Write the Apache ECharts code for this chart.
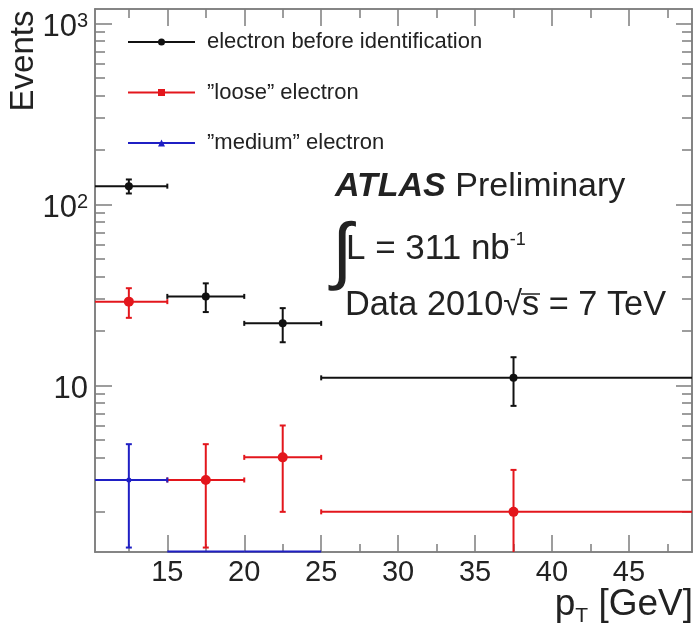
<!DOCTYPE html>
<html>
<head>
<meta charset="utf-8">
<script src="https://cdn.jsdelivr.net/npm/echarts@6/dist/echarts.min.js"></script>
<style>
  html, body { margin: 0; padding: 0; background: #fff; }
  #chart { width: 695px; height: 630px; }
</style>
</head>
<body>
<div id="chart"></div>
<script>
// bins in pT [GeV]
var binLo = [10, 15, 20, 25];
var binHi = [15, 20, 25, 50];
var binMid = [12.5, 17.5, 22.5, 37.5];

// events per bin, and error bar half-size
var allVals = [126, 31, 22, 11];
var allErrs = [11.2, 5.6, 4.7, 3.3];
var looseVals = [29, 3, 4, 2];
var looseErrs = [5.4, 1.73, 2, 1.41];
// 0 = empty bin (drawn on the lower frame), null = not drawn
var mediumVals = [3, 0, 0, null];
var mediumErrs = [1.73, 0, 0, null];

var seriesNames = ['electron before identification', '\u201dloose\u201d electron', '\u201dmedium\u201d electron'];

var xMajor = [15, 20, 25, 30, 35, 40, 45];
var xMinor = [12.5, 17.5, 22.5, 27.5, 32.5, 37.5, 42.5, 47.5];
var yMajor = [10, 100, 1000];
var yMinor = [2, 3, 4, 5, 6, 7, 8, 9, 20, 30, 40, 50, 60, 70, 80, 90, 200, 300, 400, 500, 600, 700, 800, 900];

var xMin = 10.3, xMax = 49.1;
var yMin = 1.2, yMax = 1200;

var FONT = 'Liberation Sans, Arial, sans-serif';
var FRAME = '#7d7d7d';
var TXT = '#222';

var chart = echarts.init(document.getElementById('chart'));

// empty bins sit on the lower edge of the log axis, like ROOT draws them
function buildData(vals, errs) {
	var d = [];
	for (var i = 0; i < vals.length; i++) {
		if (vals[i] === null) continue;
		d.push([binMid[i], vals[i] > 0 ? vals[i] : yMin, binLo[i], binHi[i], errs[i], vals[i]]);
	}
	return d;
}

function makeRender(color, r) {
	return function (params, api) {
		var cs = params.coordSys;
		var left = cs.x, right = cs.x + cs.width, top = cs.y, bottom = cs.y + cs.height;
		function cx(x) { return Math.max(left, Math.min(right, x)); }
		function cy(y) { return Math.max(top, Math.min(bottom, y)); }

		var xc = api.value(0), yv = api.value(1), lo = api.value(2), hi = api.value(3), e = api.value(4), v = api.value(5);
		var pc = api.coord([xc, yv]);
		var pl = api.coord([lo, yv]);
		var pr = api.coord([hi, yv]);
		var ls = { stroke: color, lineWidth: 2 };
		var kids = [];
		var y0 = v > 0 ? pc[1] : bottom - 0.5;
		kids.push({ type: 'line', shape: { x1: cx(pl[0]), y1: y0, x2: cx(pr[0]), y2: y0 }, style: ls });
		if (v > 0) {
			if (pl[0] >= left) kids.push({ type: 'line', shape: { x1: pl[0], y1: y0 - 2.5, x2: pl[0], y2: y0 + 2.5 }, style: ls });
			if (pr[0] <= right) kids.push({ type: 'line', shape: { x1: pr[0], y1: y0 - 2.5, x2: pr[0], y2: y0 + 2.5 }, style: ls });
		}
		if (v > 0 && e > 0) {
			var pt = api.coord([xc, v + e]);
			var pb = api.coord([xc, Math.max(v - e, 0.01)]);
			kids.push({ type: 'line', shape: { x1: pt[0], y1: cy(pt[1]), x2: pb[0], y2: cy(pb[1]) }, style: ls });
			if (pt[1] >= top) kids.push({ type: 'line', shape: { x1: pt[0] - 3, y1: pt[1], x2: pt[0] + 3, y2: pt[1] }, style: ls });
			if (pb[1] <= bottom) kids.push({ type: 'line', shape: { x1: pb[0] - 3, y1: pb[1], x2: pb[0] + 3, y2: pb[1] }, style: ls });
		}
		if (v > 0) {
			kids.push({ type: 'circle', shape: { cx: pc[0], cy: pc[1], r: r }, style: { fill: color } });
		}
		return { type: 'group', children: kids };
	};
}

function xAxisDef(pos, ticks, len, labels) {
	return {
		type: 'value', position: pos, min: xMin, max: xMax,
		axisLine: { show: true, onZero: false, lineStyle: { color: FRAME, width: 1.5 } },
		axisTick: { show: true, inside: true, length: len, customValues: ticks, lineStyle: { color: FRAME, width: 1.5 } },
		axisLabel: labels ? { show: true, customValues: ticks, fontSize: 29, color: TXT, fontFamily: FONT, margin: 6 } : { show: false },
		splitLine: { show: false }
	};
}

function yAxisDef(pos, ticks, len, labels) {
	return {
		type: 'log', position: pos, min: yMin, max: yMax, logBase: 10,
		axisLine: { show: true, onZero: false, lineStyle: { color: FRAME, width: 1.5 } },
		axisTick: { show: true, inside: true, length: len, customValues: ticks, lineStyle: { color: FRAME, width: 1.5 } },
		axisLabel: labels ? {
			show: true, customValues: ticks, fontSize: 31, color: TXT, fontFamily: FONT, margin: 7,
			padding: [8, 0, 0, 0],
			formatter: function (v) {
				var p = Math.round(Math.log(v) / Math.LN10);
				return p === 1 ? '10' : '10{s|' + p + '}';
			},
			rich: { s: { fontSize: 20, color: TXT, fontFamily: FONT, verticalAlign: 'top' } }
		} : { show: false },
		splitLine: { show: false }
	};
}

var option = {
	animation: false,
	backgroundColor: '#fff',
	grid: { left: 95, right: 3, top: 9, bottom: 78, containLabel: false, outerBoundsMode: 'none' },
	xAxis: [
		xAxisDef('bottom', xMajor, 17, true),
		xAxisDef('bottom', xMinor, 8, false),
		xAxisDef('top', xMajor, 17, false),
		xAxisDef('top', xMinor, 9, false)
	],
	yAxis: [
		yAxisDef('left', yMajor, 17, true),
		yAxisDef('left', yMinor, 10, false),
		yAxisDef('right', yMajor, 16, false),
		yAxisDef('right', yMinor, 10, false)
	],
	legend: {
		orient: 'vertical', left: 123, top: 26,
		itemWidth: 67, itemHeight: 7, itemGap: 28.5,
		selectedMode: false,
		textStyle: { fontSize: 22, color: TXT, fontFamily: FONT, lineHeight: 22, padding: [0, 0, 0, 7] },
		data: [
			{ name: seriesNames[0], icon: 'path://M0,2.5L67,2.5L67,4.5L0,4.5Z M30,3.5A3.5,3.5,0,1,1,37,3.5A3.5,3.5,0,1,1,30,3.5Z' },
			{ name: seriesNames[1], icon: 'path://M0,2.5L67,2.5L67,4.5L0,4.5Z M30,0L37,0L37,7L30,7Z' },
			{ name: seriesNames[2], icon: 'path://M0,2.5L67,2.5L67,4.5L0,4.5Z M33.5,0L37,7L30,7Z' }
		]
	},
	graphic: [
		{ type: 'text', x: 24, y: 61, rotation: Math.PI / 2,
		  style: { text: 'Events', fontSize: 33, fontFamily: FONT, fill: TXT, align: 'center', verticalAlign: 'middle' } },
		{ type: 'text', x: 693, y: 605,
		  style: { text: 'p{t|T} [GeV]', fontSize: 37, fontFamily: FONT, fill: TXT, align: 'right', verticalAlign: 'middle',
		    rich: { t: { fontSize: 21, fontFamily: FONT, fill: TXT, verticalAlign: 'bottom', padding: [22, 0, 0, 0] } } } },
		{ type: 'text', x: 335, y: 187,
		  style: { text: '{b|ATLAS} Preliminary', fontSize: 34, fontFamily: FONT, fill: TXT, align: 'left', verticalAlign: 'middle',
		    rich: { b: { fontSize: 34, fontFamily: FONT, fontWeight: 'bold', fontStyle: 'italic', fill: TXT } } } },
		{ type: 'text', x: 332, y: 255,
		  style: { text: '\u222b', fontSize: 74, fontFamily: FONT, fill: TXT, align: 'left', verticalAlign: 'middle' } },
		{ type: 'text', x: 346, y: 249,
		  style: { text: 'L = 311 nb{u|-1}', fontSize: 35, fontFamily: FONT, fill: TXT, align: 'left', verticalAlign: 'middle',
		    rich: { u: { fontSize: 18, fontFamily: FONT, fill: TXT, verticalAlign: 'top' } } } },
		{ type: 'text', x: 345, y: 306,
		  style: { text: 'Data 2010\u221as = 7 TeV', fontSize: 34.3, fontFamily: FONT, fill: TXT, align: 'left', verticalAlign: 'middle' } },
		{ type: 'line', shape: { x1: 521, y1: 294, x2: 540, y2: 294 }, style: { stroke: TXT, lineWidth: 1.5 } }
	],
	series: [
		{ name: seriesNames[0], type: 'custom', clip: false, xAxisIndex: 0, yAxisIndex: 0,
		  itemStyle: { color: '#111' }, renderItem: makeRender('#111', 4), encode: { x: [0, 2, 3], y: 1 },
		  data: buildData(allVals, allErrs), z: 3 },
		{ name: seriesNames[1], type: 'custom', clip: false, xAxisIndex: 0, yAxisIndex: 0,
		  itemStyle: { color: '#e3161c' }, renderItem: makeRender('#e3161c', 5), encode: { x: [0, 2, 3], y: 1 },
		  data: buildData(looseVals, looseErrs), z: 4 },
		{ name: seriesNames[2], type: 'custom', clip: false, xAxisIndex: 0, yAxisIndex: 0,
		  itemStyle: { color: '#1f1fc4' }, renderItem: makeRender('#1f1fc4', 2.5), encode: { x: [0, 2, 3], y: 1 },
		  data: buildData(mediumVals, mediumErrs), z: 5 }
	]
};

chart.setOption(option);
</script>
</body>
</html>
